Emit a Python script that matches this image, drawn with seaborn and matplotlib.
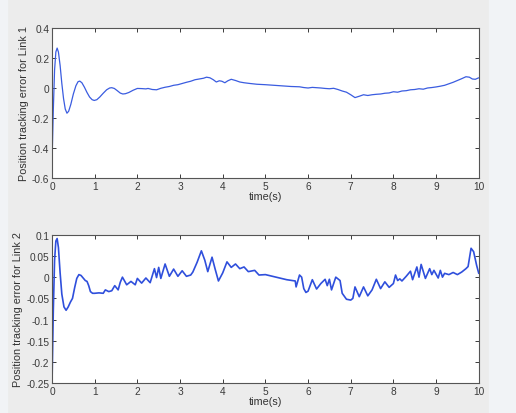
import numpy as np
import pandas as pd
import matplotlib
matplotlib.use('Agg')
import matplotlib.pyplot as plt
import seaborn as sns

# Ошибка слежения для звена 1
t1 = [0.0, 0.03, 0.06, 0.09, 0.12, 0.15, 0.19, 0.23, 0.27, 0.31, 0.35, 0.39, 0.44, 0.50,
      0.56, 0.61, 0.65, 0.70, 0.76, 0.82, 0.88, 0.94, 0.99, 1.05, 1.12, 1.20, 1.28, 1.35,
      1.40, 1.46, 1.53, 1.60, 1.66, 1.72, 1.80, 1.90, 2.00, 2.10, 2.20,
      2.25, 2.35, 2.45, 2.55, 2.65, 2.75, 2.85, 2.95, 3.05, 3.15, 3.25, 3.35, 3.45, 3.55,
      3.62, 3.70, 3.78, 3.85, 3.92, 3.98, 4.05, 4.12, 4.20, 4.30, 4.40, 4.50, 4.64, 4.80,
      5.00, 5.20, 5.40, 5.60, 5.80, 5.90, 6.00, 6.10, 6.20, 6.30, 6.40, 6.50, 6.60, 6.70,
      6.80, 6.90, 7.00, 7.10, 7.20, 7.30, 7.40, 7.50, 7.60, 7.70, 7.80, 7.90, 8.00, 8.10,
      8.20, 8.30, 8.40, 8.50, 8.60, 8.70, 8.80, 8.90, 9.00, 9.10, 9.20, 9.30, 9.40, 9.50,
      9.60, 9.70, 9.78, 9.85, 9.92, 10.0]
e1 = [-0.50, -0.15, 0.12, 0.24, 0.266, 0.24, 0.15, 0.03, -0.07, -0.14, -0.168, -0.155, -0.11, -0.04,
      0.015, 0.042, 0.046, 0.035, 0.005, -0.03, -0.06, -0.078, -0.083, -0.078, -0.06, -0.035, -0.012, 0.0,
      0.002, -0.003, -0.018, -0.034, -0.04, -0.038, -0.03, -0.015, -0.003, -0.004, -0.006,
      -0.003, -0.01, -0.012, -0.002, 0.005, 0.010, 0.018, 0.022, 0.030, 0.038, 0.045, 0.055, 0.060, 0.065,
      0.072, 0.068, 0.055, 0.040, 0.048, 0.045, 0.035, 0.048, 0.058, 0.050, 0.040, 0.035, 0.030, 0.025,
      0.022, 0.018, 0.014, 0.010, 0.008, 0.003, 0.000, 0.004, 0.002, 0.000, -0.003, -0.005, -0.002, -0.010,
      -0.020, -0.028, -0.045, -0.064, -0.055, -0.045, -0.050, -0.045, -0.042, -0.040, -0.035, -0.033, -0.025, -0.028,
      -0.020, -0.018, -0.012, -0.010, -0.005, -0.008, 0.000, 0.003, 0.007, 0.012, 0.018, 0.028, 0.038, 0.050,
      0.062, 0.075, 0.072, 0.060, 0.058, 0.068]

# Ошибка слежения для звена 2
t2 = [0.0, 0.03, 0.06, 0.09, 0.12, 0.15, 0.19, 0.23, 0.28, 0.33, 0.38, 0.43, 0.48, 0.53, 0.58,
      0.63, 0.68, 0.73, 0.78, 0.82, 0.86, 0.90, 0.95, 1.00, 1.10, 1.20, 1.25, 1.33, 1.40, 1.47,
      1.55, 1.60, 1.65, 1.75,
      1.85, 1.95, 2.00, 2.10, 2.20, 2.30, 2.40, 2.45, 2.50, 2.55, 2.65, 2.75, 2.85, 2.95,
      3.05, 3.15, 3.25, 3.30, 3.40, 3.50, 3.58, 3.65, 3.75, 3.82, 3.90, 4.00, 4.10, 4.20,
      4.30, 4.40, 4.50, 4.60, 4.75, 4.85, 5.00, 5.25, 5.50, 5.70, 5.72, 5.80, 5.85, 5.90,
      5.95, 6.00, 6.10, 6.20, 6.30, 6.40, 6.45, 6.50, 6.55, 6.65, 6.75, 6.80, 6.90, 7.00,
      7.05, 7.10, 7.20, 7.30, 7.40, 7.50, 7.60, 7.70, 7.80, 7.90, 8.00, 8.05, 8.10, 8.15,
      8.20, 8.30, 8.40, 8.45, 8.55, 8.60, 8.65, 8.75, 8.85, 8.90, 8.95, 9.05, 9.10, 9.15,
      9.20, 9.30, 9.40, 9.50, 9.60, 9.70, 9.75, 9.82, 9.88, 9.95, 10.0]
e2 = [-0.25, -0.08, 0.04, 0.085, 0.091, 0.07, 0.01, -0.04, -0.07, -0.078, -0.07, -0.059, -0.05, -0.025, -0.003,
      0.006, 0.004, -0.002, -0.008, -0.010, -0.020, -0.034, -0.038, -0.038, -0.037, -0.038, -0.030, -0.034, -0.032, -0.020,
      -0.030, -0.012, 0.000, -0.018,
      -0.010, -0.018, -0.003, -0.014, -0.002, -0.013, 0.020, -0.001, 0.023, -0.003, 0.031, 0.002, 0.019, 0.002,
      0.015, 0.002, 0.005, 0.012, 0.035, 0.062, 0.040, 0.013, 0.047, 0.020, -0.009, 0.010, 0.036, 0.023,
      0.031, 0.020, 0.024, 0.013, 0.016, 0.005, 0.006, 0.000, -0.006, -0.009, -0.023, 0.005, 0.000, -0.027,
      -0.036, -0.033, -0.006, -0.028, -0.015, -0.005, -0.020, -0.005, -0.030, 0.000, -0.008, -0.038, -0.052, -0.054,
      -0.050, -0.023, -0.046, -0.023, -0.044, -0.030, -0.005, -0.027, -0.011, -0.024, -0.015, 0.005, -0.008, -0.004,
      -0.009, 0.002, 0.014, -0.006, 0.024, 0.000, 0.030, -0.003, 0.020, 0.006, 0.016, -0.002, 0.016, 0.000,
      0.009, 0.006, 0.011, 0.006, 0.012, 0.020, 0.025, 0.068, 0.060, 0.028, 0.009]

x_ticks = np.arange(0, 11, 1)
y1_ticks = [-0.6, -0.4, -0.2, 0, 0.2, 0.4]
y2_ticks = [-0.25, -0.2, -0.15, -0.1, -0.05, 0, 0.05, 0.1]

df1 = pd.DataFrame({'t': t1, 'e': e1})
df2 = pd.DataFrame({'t': t2, 'e': e2})

sns.set_style('ticks')
plt.rcParams['font.family'] = ['Liberation Sans', 'DejaVu Sans']

fig = plt.figure(figsize=(5.16, 4.14), dpi=100)
fig.patch.set_facecolor('#ececec')
# светлые полосы по краям, как на скриншоте
fig.patches.append(plt.Rectangle((489 / 516, 0), 1, 1, transform=fig.transFigure,
                                 color='#f1f3f6', zorder=-1))
fig.patches.append(plt.Rectangle((0, 0), 7 / 516, 1, transform=fig.transFigure,
                                 color='#f1f3f6', zorder=-1))

ax1 = fig.add_axes([0.1008, 0.5676, 0.827, 0.3624])
ax2 = fig.add_axes([0.1008, 0.0717, 0.827, 0.3590])

sns.lineplot(data=df1, x='t', y='e', ax=ax1, color='#3a5ce0', linewidth=0.9)
sns.lineplot(data=df2, x='t', y='e', ax=ax2, color='#2f4fdc', linewidth=1.2)

for ax, yt, lims, lab in [
        (ax1, y1_ticks, (-0.6, 0.4), 'Position tracking error for Link 1'),
        (ax2, y2_ticks, (-0.25, 0.1), 'Position tracking error for Link 2')]:
    ax.set_xlim(0, 10)
    ax.set_ylim(*lims)
    ax.set_xticks(x_ticks)
    ax.set_yticks(yt)
    ax.set_yticklabels(['{:g}'.format(v) for v in yt])
    ax.tick_params(direction='in', top=True, right=True, length=3, width=0.7,
                   labelsize=7.3, colors='#3a3a3a', pad=2)
    ax.set_xlabel('time(s)', fontsize=7.8, color='#333333', labelpad=0)
    ax.set_ylabel(lab, fontsize=7.8, color='#333333', labelpad=2)
    ax.set_facecolor('white')
    for s in ax.spines.values():
        s.set_visible(True)
        s.set_color('#555555')
        s.set_linewidth(0.8)

fig.savefig('out.png', dpi=100, facecolor=fig.get_facecolor())
